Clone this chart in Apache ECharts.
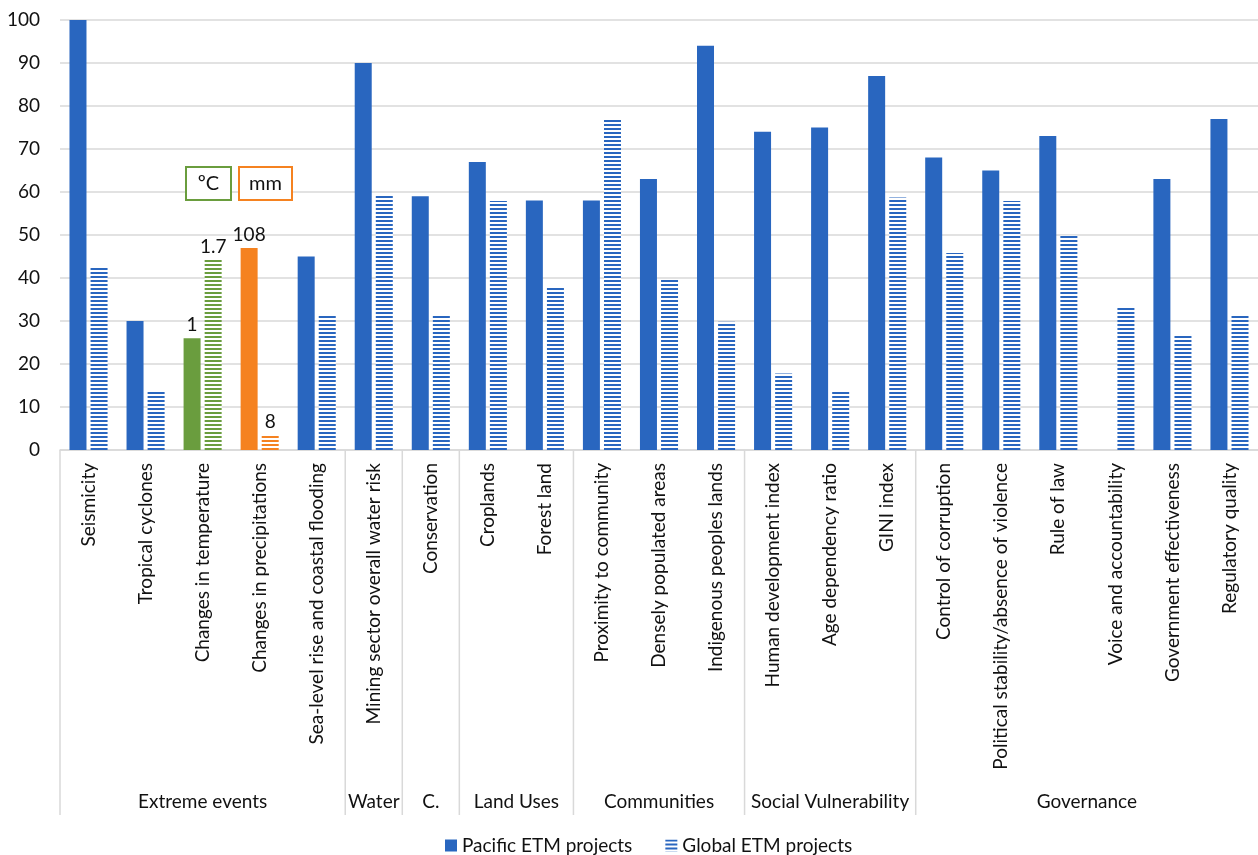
<!DOCTYPE html>
<html>
<head>
<meta charset="utf-8">
<script src="https://cdn.jsdelivr.net/npm/echarts@6/dist/echarts.min.js"></script>
<style>
  html, body { margin: 0; padding: 0; background: #fff; }
  #chart { width: 1258px; height: 855px; }
</style>
</head>
<body>
<div id="chart"></div>
<script>
var categories = [
  'Seismicity', 'Tropical cyclones', 'Changes in temperature', 'Changes in precipitations',
  'Sea-level rise and coastal flooding', 'Mining sector overall water risk', 'Conservation',
  'Croplands', 'Forest land', 'Proximity to community', 'Densely populated areas',
  'Indigenous peoples lands', 'Human development index', 'Age dependency ratio', 'GINI index',
  'Control of corruption', 'Political stability/absence of violence', 'Rule of law',
  'Voice and accountability', 'Government effectiveness', 'Regulatory quality'
];
var pacific = [100, 30, 26, 47, 45, 90, 59, 67, 58, 58, 63, 94, 74, 75, 87, 68, 65, 73, null, 63, 77];
var global = [42.6, 13.8, 44.2, 3.4, 31.5, 59.5, 31.6, 57.9, 37.9, 77.2, 39.6, 29.8, 17.8, 13.8, 58.7, 45.8, 57.9, 49.9, 33, 26.7, 31.6];

// labels shown on the two unit-converted indicators
var pacificLabels = { 2: '1', 3: '108' };
var globalLabels = { 2: '1.7', 3: '8' };
var specialColors = { 2: '#6a9d3e', 3: '#f58220' };

var groupNames = ['Extreme events', 'Water', 'C.', 'Land Uses', 'Communities', 'Social Vulnerability', 'Governance'];
var groupSizes = [5, 1, 1, 2, 3, 3, 6];

var BLUE = '#2966bf';
var FONT = 'Lato';

function stripes(color) {
  var c = document.createElement('canvas');
  c.width = 4; c.height = 4;
  var ctx = c.getContext('2d');
  ctx.fillStyle = '#ffffff';
  ctx.fillRect(0, 0, 4, 4);
  ctx.fillStyle = color;
  ctx.fillRect(0, 0, 4, 2);
  return { image: c, repeat: 'repeat' };
}

var labelStyle = { show: true, position: 'top', fontSize: 19, fontFamily: FONT, color: '#111', distance: 4 };

var pacificData = pacific.map(function (v, i) {
  var item = { value: v };
  if (specialColors[i]) item.itemStyle = { color: specialColors[i] };
  if (pacificLabels[i]) item.label = Object.assign({ formatter: pacificLabels[i] }, labelStyle);
  return item;
});
var globalData = global.map(function (v, i) {
  var item = { value: v };
  if (specialColors[i]) item.itemStyle = { color: stripes(specialColors[i]) };
  if (globalLabels[i]) item.label = Object.assign({ formatter: globalLabels[i] }, labelStyle);
  return item;
});

var chart = echarts.init(document.getElementById('chart'));

var option = {
  animation: false,
  textStyle: { fontFamily: FONT },
  grid: { left: 60, right: 0, top: 20, bottom: 405 },
  legend: {
    top: 836,
    left: 445,
    padding: 0,
    itemWidth: 12,
    itemHeight: 12,
    itemGap: 33,
    icon: 'rect',
    textStyle: { fontSize: 19, fontFamily: FONT, color: '#111' },
    data: ['Pacific ETM projects', 'Global ETM projects']
  },
  xAxis: {
    type: 'category',
    data: categories,
    axisLine: { lineStyle: { color: '#d9d9d9', width: 1.5 } },
    axisTick: { show: false },
    axisLabel: { rotate: 90, margin: 13, fontSize: 19, fontFamily: FONT, color: '#111', interval: 0 }
  },
  yAxis: {
    type: 'value',
    min: 0,
    max: 100,
    interval: 10,
    axisLine: { show: false },
    axisTick: { show: false },
    axisLabel: { margin: 20, fontSize: 19, fontFamily: FONT, color: '#111' },
    splitLine: { lineStyle: { color: '#d9d9d9', width: 1.5 } }
  },
  series: [
    {
      name: 'Pacific ETM projects',
      type: 'bar',
      barWidth: 17,
      barGap: '24%',
      itemStyle: { color: BLUE },
      data: pacificData
    },
    {
      name: 'Global ETM projects',
      type: 'bar',
      barWidth: 17,
      itemStyle: { color: stripes(BLUE) },
      data: globalData
    }
  ]
};
chart.setOption(option);

// group separators and labels under the category labels
var c0 = chart.convertToPixel({ xAxisIndex: 0 }, categories[0]);
var c1 = chart.convertToPixel({ xAxisIndex: 0 }, categories[1]);
var band = c1 - c0;
var axisY = chart.convertToPixel({ yAxisIndex: 0 }, 0);
var graphics = [];
var start = 0;
groupNames.forEach(function (name, g) {
  var x0 = chart.convertToPixel({ xAxisIndex: 0 }, categories[start]) - band / 2;
  var x1 = x0 + groupSizes[g] * band;
  graphics.push({
    type: 'line',
    shape: { x1: x0, y1: axisY, x2: x0, y2: 815 },
    style: { stroke: '#d9d9d9', lineWidth: 1.5 }
  });
  graphics.push({
    type: 'text',
    x: (x0 + x1) / 2,
    y: 802,
    style: { text: name, fontSize: 19, fontFamily: FONT, fill: '#111', align: 'center', verticalAlign: 'middle' }
  });
  start += groupSizes[g];
});

// unit boxes
graphics.push({
  type: 'group',
  children: [
    { type: 'rect', shape: { x: 186, y: 167, width: 45, height: 33 }, style: { fill: '#fff', stroke: '#6a9d3e', lineWidth: 2 } },
    { type: 'text', x: 208.5, y: 184, style: { text: 'ºC', fontSize: 20, fontFamily: FONT, fill: '#111', align: 'center', verticalAlign: 'middle' } },
    { type: 'rect', shape: { x: 239, y: 167, width: 53, height: 33 }, style: { fill: '#fff', stroke: '#f58220', lineWidth: 2 } },
    { type: 'text', x: 265.5, y: 184, style: { text: 'mm', fontSize: 20, fontFamily: FONT, fill: '#111', align: 'center', verticalAlign: 'middle' } }
  ]
});

chart.setOption({ graphic: graphics });
</script>
</body>
</html>
